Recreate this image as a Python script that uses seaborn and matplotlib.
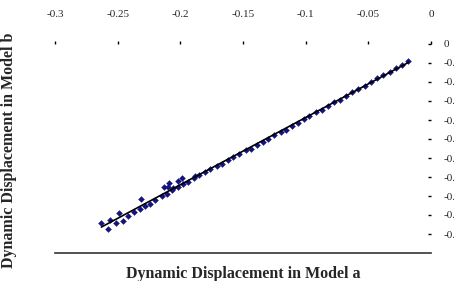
import matplotlib
matplotlib.use("Agg")
import matplotlib.pyplot as plt
import numpy as np
import pandas as pd
import seaborn as sns

# Dynamic displacement, model a (x) vs model b (y)
disp_a = [-0.258, -0.251, -0.246, -0.242, -0.237, -0.232, -0.228, -0.224, -0.220, -0.215,
          -0.211, -0.207, -0.202, -0.198, -0.194, -0.189, -0.185, -0.180, -0.176, -0.171,
          -0.167, -0.162, -0.158, -0.153, -0.148, -0.144, -0.139, -0.134, -0.130, -0.125,
          -0.120, -0.116, -0.111, -0.106, -0.101, -0.097, -0.092, -0.087, -0.082, -0.077,
          -0.073, -0.068, -0.063, -0.058, -0.053, -0.048, -0.043, -0.038, -0.033, -0.028,
          -0.023, -0.018,
          -0.263, -0.256, -0.249, -0.231, -0.213, -0.210, -0.202, -0.199, -0.188, -0.209,
          -0.206]
disp_b = [-0.195, -0.188, -0.186, -0.181, -0.177, -0.174, -0.170, -0.168, -0.164, -0.160,
          -0.158, -0.154, -0.151, -0.147, -0.145, -0.141, -0.138, -0.135, -0.132, -0.128,
          -0.126, -0.122, -0.119, -0.116, -0.112, -0.110, -0.106, -0.103, -0.100, -0.096,
          -0.093, -0.090, -0.086, -0.083, -0.079, -0.076, -0.072, -0.069, -0.065, -0.061,
          -0.059, -0.055, -0.051, -0.047, -0.044, -0.040, -0.036, -0.033, -0.029, -0.025,
          -0.022, -0.018,
          -0.188, -0.185, -0.178, -0.163, -0.151, -0.150, -0.144, -0.141, -0.139, -0.146,
          -0.152]

x_ticks = [-0.3, -0.25, -0.2, -0.15, -0.1, -0.05, 0]
y_ticks = [-0.2, -0.18, -0.16, -0.14, -0.12, -0.1, -0.08, -0.06, -0.04, -0.02, 0]

df = pd.DataFrame({"a": disp_a, "b": disp_b})

sns.set_style("white")
plt.rcParams["font.family"] = ["Liberation Serif", "DejaVu Serif"]

fig = plt.figure(figsize=(4.54, 2.81), dpi=100)
ax = fig.add_axes([55 / 454, 1 - 253 / 281, 376 / 454, 209 / 281])

sns.scatterplot(data=df, x="a", y="b", ax=ax, marker="D", s=9, color="#14147f",
                edgecolor="#14147f", linewidth=0.3, zorder=2)
sns.regplot(data=df, x="a", y="b", ax=ax, scatter=False, ci=None,
            line_kws={"color": "black", "linewidth": 1.2, "zorder": 3})

ax.set_xlim(-0.3, 0)
ax.set_ylim(-0.22, 0)
ax.set_xticks(x_ticks)
ax.set_yticks(y_ticks)
ax.set_xticklabels([f"{t:g}" for t in x_ticks])
ax.set_yticklabels([f"{t:g}" for t in y_ticks])

ax.xaxis.tick_top()
ax.yaxis.tick_right()
ax.tick_params(axis="x", top=True, bottom=False, direction="out", length=2,
               width=1, pad=16, labelsize=8, color="black")
ax.tick_params(axis="y", right=True, left=False, direction="in", length=2,
               width=1, pad=9, labelsize=8, color="black")

for s in ["top", "right", "left"]:
    ax.spines[s].set_visible(False)
ax.spines["bottom"].set_color("#333333")
ax.spines["bottom"].set_linewidth(1.2)

ax.set_xlabel("Dynamic Displacement in Model a", fontsize=11.5, fontweight="bold")
ax.xaxis.set_label_position("bottom")
ax.xaxis.set_label_coords(0.5, -0.06)
ax.xaxis.label.set_va("top")
ax.set_ylabel("Dynamic Displacement in Model b", fontsize=11.5, fontweight="bold")
ax.yaxis.set_label_position("left")
ax.yaxis.set_label_coords(-0.101, 0.49)

fig.savefig("out.png", dpi=100)
